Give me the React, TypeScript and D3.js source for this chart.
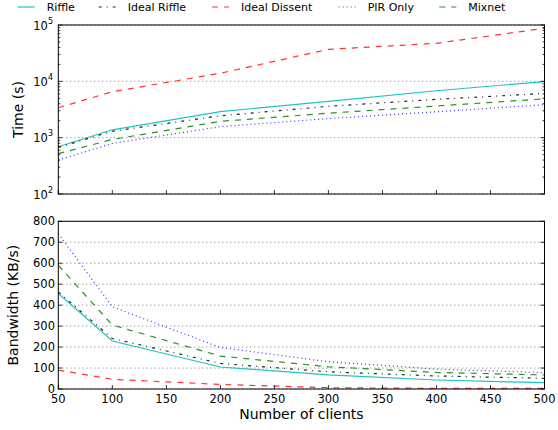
import React from "react";
import * as d3 from "d3";

const clients = [50, 100, 200, 300, 400, 500];
const seriesNames = ["Riffle", "Ideal Riffle", "Ideal Dissent", "PIR Only", "Mixnet"];
const timeRiffle = [690, 1380, 2900, 4400, 6800, 9900];
const timeIdealRiffle = [670, 1300, 2450, 3600, 4800, 6100];
const timeIdealDissent = [3400, 6550, 13900, 37000, 47300, 87400];
const timePIR = [400, 790, 1570, 2180, 2880, 3850];
const timeMixnet = [520, 930, 1950, 2720, 3640, 4900];
const bwRiffle = [456, 229, 105, 67, 43, 30];
const bwIdealRiffle = [463, 241, 122, 82, 62, 51];
const bwIdealDissent = [90, 46, 22, 6, 3, 3];
const bwPIR = [741, 392, 198, 130, 95, 78];
const bwMixnet = [590, 305, 157, 106, 79, 67];
const xTicks = [50, 100, 150, 200, 250, 300, 350, 400, 450, 500];
const timeTickExps = [2, 3, 4, 5];
const bwTicks = [0, 100, 200, 300, 400, 500, 600, 700, 800];

const styles = [
  { color: "#00bfbf", dash: "none", opacity: 0.9 },
  { color: "#000000", dash: "3,5,1,5", opacity: 0.85 },
  { color: "#ff0000", dash: "6,6", opacity: 0.8 },
  { color: "#0000ff", dash: "1,3", opacity: 0.8 },
  { color: "#008000", dash: "6,6", opacity: 0.85 },
];

const timeData = [timeRiffle, timeIdealRiffle, timeIdealDissent, timePIR, timeMixnet];
const bwData = [bwRiffle, bwIdealRiffle, bwIdealDissent, bwPIR, bwMixnet];

const L = 58.3, R = 544.5;
const T1 = 25, B1 = 194;
const T2 = 221.3, B2 = 389;
const FONT = "DejaVu Sans, sans-serif";

export default function App() {
  const x = d3.scaleLinear().domain([50, 500]).range([L, R]);
  const yT = d3.scaleLog().domain([100, 100000]).range([B1, T1]);
  const yB = d3.scaleLinear().domain([0, 800]).range([B2, T2]);

  const lineT = d3.line<number>().x((_, i) => x(clients[i])).y((d) => yT(d));
  const lineB = d3.line<number>().x((_, i) => x(clients[i])).y((d) => yB(d));

  const minor: number[] = [];
  for (let e = 2; e < 5; e++) for (let k = 2; k <= 9; k++) minor.push(k * Math.pow(10, e));

  const legendX = [46.7, 127.7, 241, 367.7, 468.3];

  return (
    <svg width={558} height={430} style={{ position: "absolute", left: 0, top: 0, background: "#fff" }} fontFamily={FONT}>
      <rect width={558} height={430} fill="#fff" />
      {/* Top panel grid */}
      {timeTickExps.map((e) => (
        <line key={"gt" + e} x1={L} x2={R} y1={yT(Math.pow(10, e))} y2={yT(Math.pow(10, e))} stroke="#555" strokeWidth={0.8} strokeDasharray="1,3" />
      ))}
      {/* Bottom panel grid */}
      {bwTicks.map((t) => (
        <line key={"gb" + t} x1={L} x2={R} y1={yB(t)} y2={yB(t)} stroke="#555" strokeWidth={0.8} strokeDasharray="1,3" />
      ))}

      {/* lines */}
      <g clipPath="url(#c1)">
        {timeData.map((d, i) => (
          <path key={"t" + i} d={lineT(d) || ""} fill="none" stroke={styles[i].color} strokeOpacity={styles[i].opacity} strokeWidth={1.2} strokeDasharray={styles[i].dash} />
        ))}
      </g>
      <g clipPath="url(#c2)">
        {bwData.map((d, i) => (
          <path key={"b" + i} d={lineB(d) || ""} fill="none" stroke={styles[i].color} strokeOpacity={styles[i].opacity} strokeWidth={1.2} strokeDasharray={styles[i].dash} />
        ))}
      </g>
      <defs>
        <clipPath id="c1"><rect x={L} y={T1} width={R - L} height={B1 - T1} /></clipPath>
        <clipPath id="c2"><rect x={L} y={T2} width={R - L} height={B2 - T2} /></clipPath>
      </defs>

      {/* ticks top panel */}
      {xTicks.map((t) => (
        <line key={"xt1" + t} x1={x(t)} x2={x(t)} y1={B1} y2={B1 - 4} stroke="#000" strokeWidth={0.8} />
      ))}
      {timeTickExps.map((e) => (
        <g key={"yt" + e}>
          <line x1={L} x2={L + 4} y1={yT(Math.pow(10, e))} y2={yT(Math.pow(10, e))} stroke="#000" strokeWidth={0.8} />
          <line x1={R} x2={R - 4} y1={yT(Math.pow(10, e))} y2={yT(Math.pow(10, e))} stroke="#000" strokeWidth={0.8} />
          <text x={53} y={yT(Math.pow(10, e)) + 4.5} fontSize={11.5} textAnchor="end" fill="#000">
            10<tspan dy={-6} fontSize={8}>{e}</tspan>
          </text>
        </g>
      ))}
      {minor.map((m) => (
        <g key={"mn" + m}>
          <line x1={L} x2={L + 2} y1={yT(m)} y2={yT(m)} stroke="#000" strokeWidth={0.8} />
          <line x1={R} x2={R - 2} y1={yT(m)} y2={yT(m)} stroke="#000" strokeWidth={0.8} />
        </g>
      ))}

      {/* ticks bottom panel */}
      {xTicks.map((t) => (
        <g key={"xt2" + t}>
          <line x1={x(t)} x2={x(t)} y1={B2} y2={B2 - 4} stroke="#000" strokeWidth={0.8} />
          <text x={x(t)} y={402.5} fontSize={11.5} textAnchor="middle" fill="#000">{t}</text>
        </g>
      ))}
      {bwTicks.map((t) => (
        <g key={"yb" + t}>
          <line x1={L} x2={L + 4} y1={yB(t)} y2={yB(t)} stroke="#000" strokeWidth={0.8} />
          <line x1={R} x2={R - 4} y1={yB(t)} y2={yB(t)} stroke="#000" strokeWidth={0.8} />
          <text x={55} y={yB(t) + 4} fontSize={11.5} textAnchor="end" fill="#000">{t}</text>
        </g>
      ))}

      {/* frames */}
      <rect x={L} y={T1} width={R - L} height={B1 - T1} fill="none" stroke="#000" strokeWidth={1} />
      <rect x={L} y={T2} width={R - L} height={B2 - T2} fill="none" stroke="#000" strokeWidth={1} />

      {/* axis labels */}
      <text transform={`translate(23,${(T1 + B1) / 2}) rotate(-90)`} fontSize={14} textAnchor="middle" fill="#000">Time (s)</text>
      <text transform={`translate(17.5,${(T2 + B2) / 2}) rotate(-90)`} fontSize={14} textAnchor="middle" fill="#000">Bandwidth (KB/s)</text>
      <text x={(L + R) / 2} y={419} fontSize={14} textAnchor="middle" fill="#000">Number of clients</text>

      {/* legend */}
      {seriesNames.map((n, i) => (
        <g key={"lg" + i}>
          <line x1={legendX[i] - 29} x2={legendX[i] - 12} y1={7} y2={7} stroke={styles[i].color} strokeOpacity={styles[i].opacity} strokeWidth={1.2} strokeDasharray={styles[i].dash} />
          <text x={legendX[i]} y={11} fontSize={11} fill="#000">{n}</text>
        </g>
      ))}
    </svg>
  );
}
